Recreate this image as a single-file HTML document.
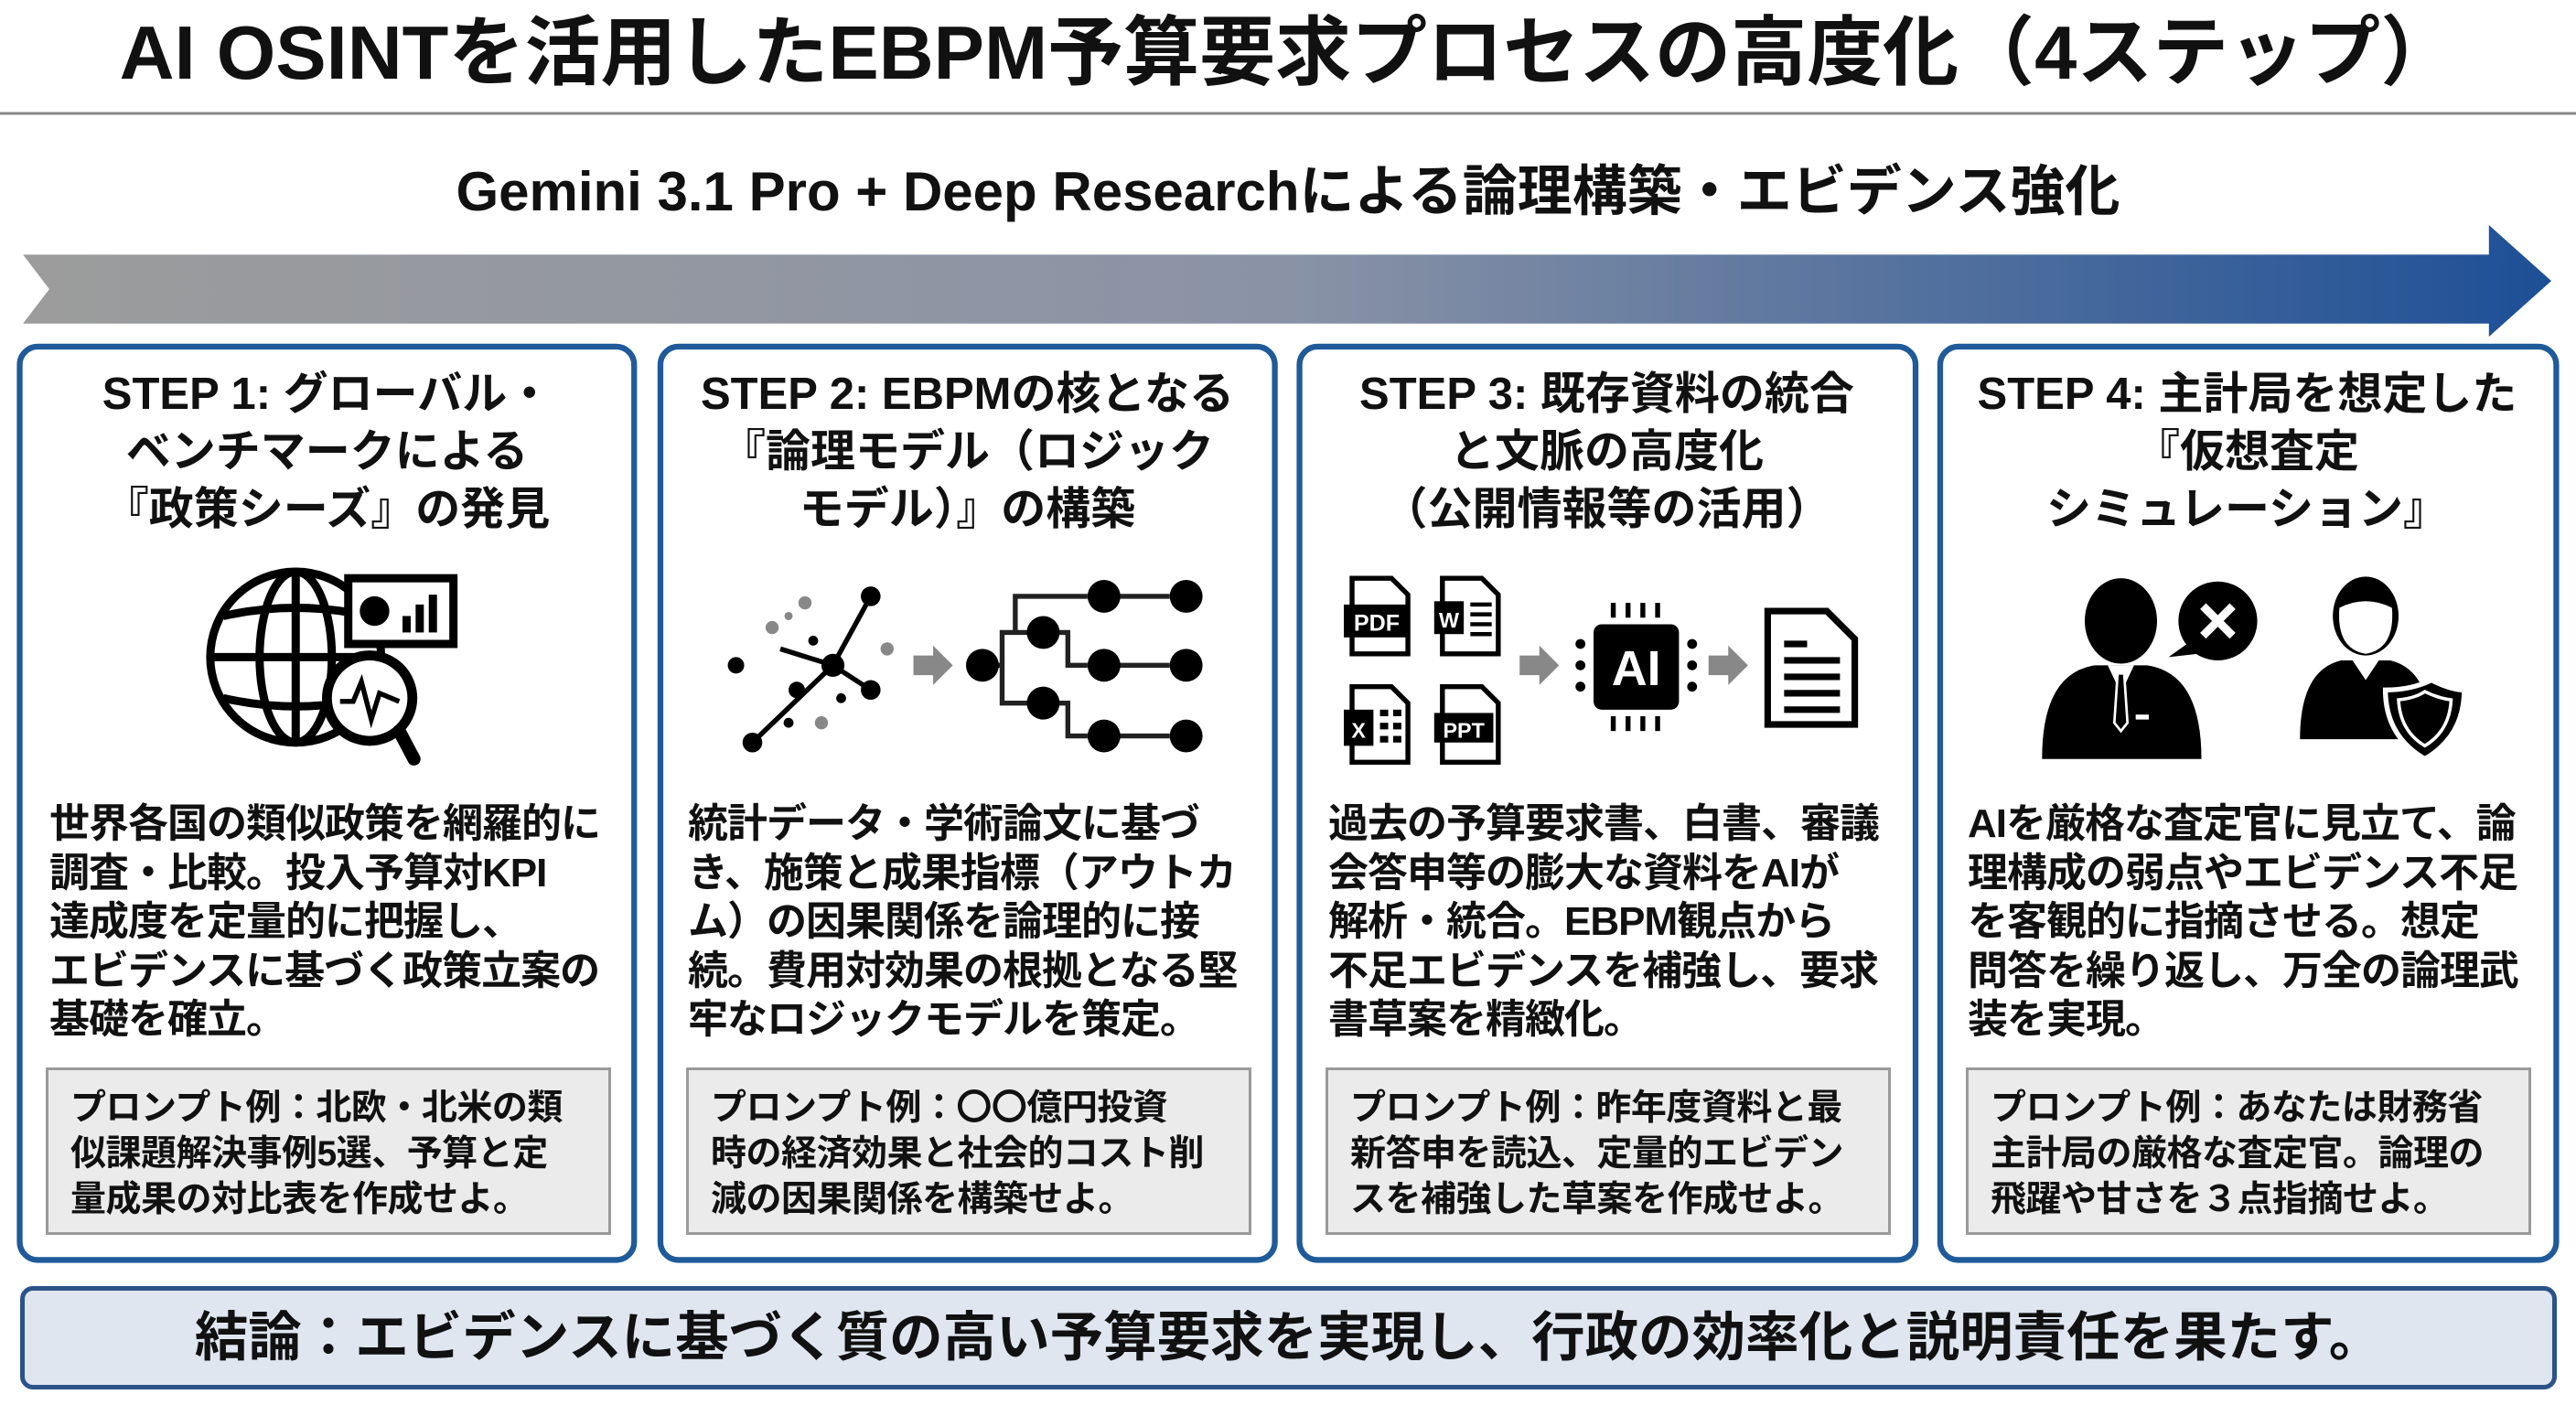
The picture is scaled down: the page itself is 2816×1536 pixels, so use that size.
<!DOCTYPE html>
<html><head><meta charset="utf-8"><style>
body{margin:0;width:2816px;height:1536px;background:#fff;position:relative;overflow:hidden;font-family:"Liberation Sans","Noto Sans CJK JP",sans-serif;color:#111;}
.a{position:absolute;white-space:nowrap;}
.title{left:0;width:2816px;top:8px;text-align:center;font-size:83px;font-weight:bold;line-height:100px;}
.sub{left:0;width:2816px;top:170px;text-align:center;font-size:60px;font-weight:bold;line-height:80px;}
.ct{text-align:center;font-size:49px;font-weight:bold;line-height:63px;width:671px;top:400px;}
.body{font-size:44px;font-weight:bold;line-height:53.5px;top:874px;letter-spacing:-1px;}
.pr{top:1167px;width:612px;height:177px;background:#ebebeb;border:3px solid #9a9a9a;font-size:39px;font-weight:bold;line-height:50px;padding:0;box-sizing:content-box;}
.pr div{padding:17px 0 0 24px;letter-spacing:-0.5px}
.concl{left:22px;top:1406px;width:2763px;height:103px;background:#dfe6f0;border:5px solid #2b5389;border-radius:14px;text-align:center;font-size:58.5px;font-weight:bold;line-height:103px;}
</style></head><body>
<svg width="2816" height="1536" style="position:absolute;left:0;top:0">
<defs><linearGradient id="g" x1="0" x2="1"><stop offset="0" stop-color="#9c9c9c"/><stop offset="0.5" stop-color="#8a93a6"/><stop offset="1" stop-color="#1d4f96"/></linearGradient></defs>
<line x1="0" y1="124" x2="2816" y2="124" stroke="#888" stroke-width="3"/>
<g transform="scale(1.7959)">
<polygon points="14,155 1515,155 1515,137 1553,171 1515,205 1515,197 14,197 30,176" fill="url(#g)"/>
<g fill="#fff" stroke="#1f5a9a" stroke-width="3.5">
<rect x="12" y="211" width="374" height="556" rx="11"/>
<rect x="402" y="211" width="374" height="556" rx="11"/>
<rect x="791" y="211" width="375" height="556" rx="11"/>
<rect x="1181" y="211" width="375" height="556" rx="11"/>
</g>
<g fill="none" stroke="#000" stroke-width="5">
<circle cx="180" cy="400" r="52"/>
<ellipse cx="180" cy="400" rx="22" ry="52"/>
<line x1="128" y1="400" x2="232" y2="400"/>
<path d="M136,375 Q180,365 224,375 M136,425 Q180,435 224,425"/>
<line x1="180" y1="348" x2="180" y2="452"/>
</g>
<rect x="212" y="352" width="64" height="40" fill="#fff" stroke="#000" stroke-width="5"/>
<circle cx="228" cy="372" r="9" fill="#000"/>
<rect x="245" y="375" width="5" height="10" fill="#000"/><rect x="253" y="368" width="5" height="17" fill="#000"/><rect x="261" y="362" width="5" height="23" fill="#000"/>
<circle cx="225" cy="425" r="26" fill="#fff" stroke="#000" stroke-width="6"/>
<path d="M207,427 L215,427 L220,415 L226,438 L231,422 L243,427" fill="none" stroke="#000" stroke-width="3"/>
<line x1="243" y1="445" x2="252" y2="462" stroke="#000" stroke-width="8" stroke-linecap="round"/>
<g stroke="#000" stroke-width="3"><line x1="530" y1="363" x2="507" y2="405"/><line x1="507" y1="405" x2="458" y2="452"/><line x1="507" y1="405" x2="530" y2="420"/><line x1="507" y1="405" x2="475" y2="395"/></g>
<g fill="#000"><circle cx="530" cy="363" r="6"/><circle cx="507" cy="405" r="7"/><circle cx="458" cy="452" r="6"/><circle cx="530" cy="420" r="6"/><circle cx="448" cy="405" r="5"/><circle cx="485" cy="420" r="5"/><circle cx="495" cy="390" r="3"/><circle cx="480" cy="440" r="3"/><circle cx="512" cy="425" r="3"/></g>
<g fill="#888"><circle cx="490" cy="367" r="4"/><circle cx="470" cy="382" r="4"/><circle cx="540" cy="395" r="4"/><circle cx="500" cy="440" r="4"/><circle cx="480" cy="375" r="2.5"/></g>
<polygon points="556,399 568,399 568,393 580,405 568,417 568,411 556,411" fill="#888"/>
<g stroke="#222" stroke-width="3" fill="none"><path d="M598,405 L610,405 L610,385 L628,385 M610,405 L610,428 L628,428 M635,385 L618,385 L618,363 L662,363 M635,385 L650,385 L650,405 L662,405 M635,428 L650,428 L650,448 L662,448 M672,363 L712,363 M672,405 L712,405 M672,448 L712,448"/></g>
<g fill="#000"><circle cx="598" cy="405" r="10"/><circle cx="635" cy="385" r="10"/><circle cx="635" cy="428" r="10"/><circle cx="672" cy="363" r="10"/><circle cx="722" cy="363" r="10"/><circle cx="672" cy="405" r="10"/><circle cx="722" cy="405" r="10"/><circle cx="672" cy="448" r="10"/><circle cx="722" cy="448" r="10"/></g>
<g fill="#fff" stroke="#000" stroke-width="3"><path d="M823,352 h24 l10,10 v36 h-34z"/><path d="M878,352 h24 l10,10 v36 h-34z"/><path d="M823,418 h24 l10,10 v36 h-34z"/><path d="M878,418 h24 l10,10 v36 h-34z"/></g>
<rect x="818" y="368" width="40" height="20" fill="#000"/><text x="838" y="384" font-size="14" font-weight="bold" fill="#fff" text-anchor="middle" font-family="Liberation Sans">PDF</text>
<rect x="873" y="366" width="18" height="20" fill="#000"/><text x="882" y="382" font-size="13" font-weight="bold" fill="#fff" text-anchor="middle" font-family="Liberation Sans">W</text>
<g stroke="#000" stroke-width="2.5"><line x1="895" y1="368" x2="908" y2="368"/><line x1="895" y1="374" x2="908" y2="374"/><line x1="895" y1="380" x2="908" y2="380"/><line x1="895" y1="386" x2="908" y2="386"/></g>
<rect x="818" y="432" width="18" height="22" fill="#000"/><text x="827" y="449" font-size="13" font-weight="bold" fill="#fff" text-anchor="middle" font-family="Liberation Sans">X</text>
<g fill="#000"><rect x="840" y="432" width="5" height="4"/><rect x="848" y="432" width="5" height="4"/><rect x="840" y="440" width="5" height="4"/><rect x="848" y="440" width="5" height="4"/><rect x="840" y="448" width="5" height="4"/><rect x="848" y="448" width="5" height="4"/></g>
<rect x="873" y="434" width="36" height="18" fill="#000"/><text x="891" y="449" font-size="13" font-weight="bold" fill="#fff" text-anchor="middle" font-family="Liberation Sans">PPT</text>
<polygon points="925,399 937,399 937,393 949,405 937,417 937,411 925,411" fill="#888"/>
<rect x="970" y="380" width="52" height="52" rx="5" fill="#000"/>
<text x="996" y="417" font-size="30" font-weight="bold" fill="#fff" text-anchor="middle" font-family="Liberation Sans">AI</text>
<g stroke="#000" stroke-width="3"><line x1="982" y1="367" x2="982" y2="376"/><line x1="991" y1="367" x2="991" y2="376"/><line x1="1000" y1="367" x2="1000" y2="376"/><line x1="1009" y1="367" x2="1009" y2="376"/><line x1="982" y1="436" x2="982" y2="445"/><line x1="991" y1="436" x2="991" y2="445"/><line x1="1000" y1="436" x2="1000" y2="445"/><line x1="1009" y1="436" x2="1009" y2="445"/></g>
<g fill="#000"><circle cx="962" cy="392" r="3"/><circle cx="962" cy="405" r="3"/><circle cx="962" cy="418" r="3"/><circle cx="1030" cy="392" r="3"/><circle cx="1030" cy="405" r="3"/><circle cx="1030" cy="418" r="3"/></g>
<polygon points="1040,399 1052,399 1052,393 1064,405 1052,417 1052,411 1040,411" fill="#888"/>
<path d="M1076,372 h36 l17,17 v52 h-53z" fill="#fff" stroke="#000" stroke-width="4"/>
<g stroke="#000" stroke-width="4"><line x1="1086" y1="392" x2="1100" y2="392"/><line x1="1086" y1="402" x2="1120" y2="402"/><line x1="1086" y1="412" x2="1120" y2="412"/><line x1="1086" y1="422" x2="1120" y2="422"/><line x1="1086" y1="432" x2="1120" y2="432"/></g>
<ellipse cx="1291" cy="378" rx="22" ry="26" fill="#000"/>
<path d="M1243,462 Q1243,410 1275,405 L1307,405 Q1340,410 1340,462 z" fill="#000"/>
<path d="M1283,405 L1291,422 L1299,405z" fill="#fff"/><path d="M1289,410 h4 l2,30 l-4,5 l-4,-5z" fill="#000" stroke="#fff" stroke-width="1.5"/>
<rect x="1300" y="435" width="8" height="3" fill="#fff"/>
<circle cx="1350" cy="378" r="24" fill="#000"/><path d="M1320,400 l14,-10 l4,8z" fill="#000"/>
<path d="M1341,369 L1359,387 M1359,369 L1341,387" stroke="#fff" stroke-width="5"/>
<ellipse cx="1440" cy="375" rx="20" ry="24" fill="#000"/>
<path d="M1424,370 Q1440,362 1456,370 Q1458,395 1440,398 Q1422,395 1424,370z" fill="#fff"/>
<path d="M1400,450 Q1400,408 1425,402 L1455,402 Q1480,408 1480,450 z" fill="#000"/>
<path d="M1432,402 L1440,414 L1448,402z" fill="#fff"/>
<path d="M1452,420 Q1468,420 1480,414 Q1492,420 1500,420 Q1500,448 1476,462 Q1452,448 1452,420z" fill="#000" stroke="#fff" stroke-width="3"/>
<path d="M1460,426 Q1470,425 1476,421 Q1484,425 1492,426 Q1491,445 1476,454 Q1461,445 1460,426z" fill="none" stroke="#fff" stroke-width="2"/>
</g>
</svg>
<div class="a title">AI OSINTを活用したEBPM予算要求プロセスの高度化（4ステップ）</div>
<div class="a sub">Gemini 3.1 Pro + Deep Researchによる論理構築・エビデンス強化</div>

<div class="a ct" style="left:22px">STEP 1: グローバル・<br>ベンチマークによる<br>『政策シーズ』の発見</div>
<div class="a ct" style="left:722px">STEP 2: EBPMの核となる<br>『論理モデル（ロジック<br>モデル）』の構築</div>
<div class="a ct" style="left:1421px">STEP 3: 既存資料の統合<br>と文脈の高度化<br>（公開情報等の活用）</div>
<div class="a ct" style="left:2121px">STEP 4: 主計局を想定した<br>『仮想査定<br>シミュレーション』</div>

<div class="a body" style="left:54px">世界各国の類似政策を網羅的に<br>調査・比較。投入予算対KPI<br>達成度を定量的に把握し、<br>エビデンスに基づく政策立案の<br>基礎を確立。</div>
<div class="a body" style="left:752px">統計データ・学術論文に基づ<br>き、施策と成果指標（アウトカ<br>ム）の因果関係を論理的に接<br>続。費用対効果の根拠となる堅<br>牢なロジックモデルを策定。</div>
<div class="a body" style="left:1452px">過去の予算要求書、白書、審議<br>会答申等の膨大な資料をAIが<br>解析・統合。EBPM観点から<br>不足エビデンスを補強し、要求<br>書草案を精緻化。</div>
<div class="a body" style="left:2151px">AIを厳格な査定官に見立て、論<br>理構成の弱点やエビデンス不足<br>を客観的に指摘させる。想定<br>問答を繰り返し、万全の論理武<br>装を実現。</div>

<div class="a pr" style="left:50px"><div>プロンプト例：北欧・北米の類<br>似課題解決事例5選、予算と定<br>量成果の対比表を作成せよ。</div></div>
<div class="a pr" style="left:750px"><div>プロンプト例：〇〇億円投資<br>時の経済効果と社会的コスト削<br>減の因果関係を構築せよ。</div></div>
<div class="a pr" style="left:1449px"><div>プロンプト例：昨年度資料と最<br>新答申を読込、定量的エビデン<br>スを補強した草案を作成せよ。</div></div>
<div class="a pr" style="left:2149px"><div>プロンプト例：あなたは財務省<br>主計局の厳格な査定官。論理の<br>飛躍や甘さを３点指摘せよ。</div></div>

<div class="a concl">結論：エビデンスに基づく質の高い予算要求を実現し、行政の効率化と説明責任を果たす。</div>
</body></html>
